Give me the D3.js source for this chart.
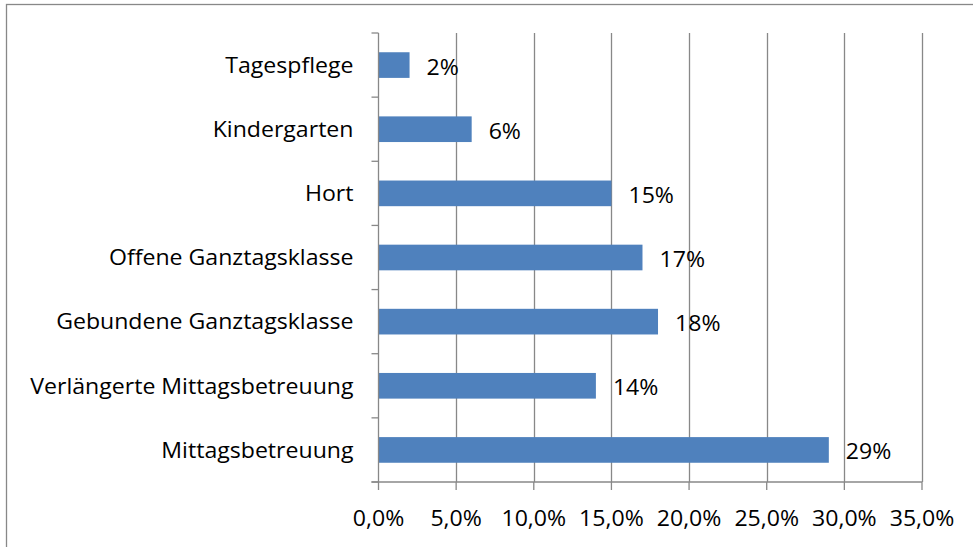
<!DOCTYPE html>
<html><head><meta charset="utf-8">
<script src="https://cdn.jsdelivr.net/npm/d3@7/dist/d3.min.js"></script>
<style>body{margin:0;background:#fff}text{font-family:"Open Sans",sans-serif;fill:#000}</style>
</head><body>
<svg id="c" width="973" height="547"></svg>
<script>
const categories = ["Tagespflege","Kindergarten","Hort","Offene Ganztagsklasse","Gebundene Ganztagsklasse","Verlängerte Mittagsbetreuung","Mittagsbetreuung"];
const values = [0.02,0.06,0.15,0.17,0.18,0.14,0.29];
const valueLabels = ["2%","6%","15%","17%","18%","14%","29%"];
const xTicks = [0,0.05,0.10,0.15,0.20,0.25,0.30,0.35];

const svg = d3.select("#c");
svg.append("rect").attr("x",6.5).attr("y",4.5).attr("width",1000).attr("height",600)
  .attr("fill","none").attr("stroke","#888").attr("stroke-width",1.3);

const L=378.5, R=922, T=33, B=482;
const FS = 21, SX = 1.1;
const x = d3.scaleLinear().domain([0,0.35]).range([L,R]);
const y = d3.scaleBand().domain(categories).range([T,B]).paddingInner(0.6).paddingOuter(0.3);
const yb = d3.scaleLinear().domain([0,categories.length]).range([T,B]);

const g = svg.append("g");
// gridlines
g.selectAll("line.grid").data(xTicks.slice(1)).join("line")
  .attr("x1",d=>Math.round(x(d))+0.5).attr("x2",d=>Math.round(x(d))+0.5)
  .attr("y1",T).attr("y2",B).attr("stroke","#888").attr("stroke-width",1.3);

// bars
g.selectAll("rect.bar").data(values).join("rect")
  .attr("x",x(0)).attr("y",(d,i)=>y(categories[i]))
  .attr("width",d=>x(d)-x(0)).attr("height",y.bandwidth())
  .attr("fill","#4F81BD");

// y axis line + ticks
g.append("line").attr("x1",L).attr("x2",L).attr("y1",T).attr("y2",B).attr("stroke","#888").attr("stroke-width",1.3);
g.selectAll("line.yt").data(d3.range(categories.length+1)).join("line")
  .attr("x1",L-7).attr("x2",L).attr("y1",d=>yb(d)).attr("y2",d=>yb(d)).attr("stroke","#888").attr("stroke-width",1.3);
// x axis line + ticks
g.append("line").attr("x1",L-7).attr("x2",R).attr("y1",B).attr("y2",B).attr("stroke","#888").attr("stroke-width",1.3);
g.selectAll("line.xt").data(xTicks).join("line")
  .attr("x1",d=>x(d)).attr("x2",d=>x(d)).attr("y1",B).attr("y2",B+8).attr("stroke","#888").attr("stroke-width",1.3);

// x tick labels
const fmt = d=>d3.format(".1%")(d).replace(".",",");
g.selectAll("text.xl").data(xTicks).join("text")
  .attr("transform",d=>`translate(${x(d)},526) scale(${SX},1)`).attr("text-anchor","middle")
  .style("font-size",FS+"px").text(fmt);

// category labels
g.selectAll("text.cl").data(categories).join("text")
  .attr("transform",d=>`translate(${L-25},${y(d)+y.bandwidth()/2}) scale(${SX},1)`).attr("dy","0.37em")
  .attr("text-anchor","end").style("font-size",FS+"px").text(d=>d);

// value labels
g.selectAll("text.vl").data(values).join("text")
  .attr("transform",(d,i)=>`translate(${x(d)+17},${y(categories[i])+y.bandwidth()/2}) scale(${SX},1)`).attr("dy","0.45em")
  .style("font-size",FS+"px").text((d,i)=>valueLabels[i]);
</script>
</body></html>
